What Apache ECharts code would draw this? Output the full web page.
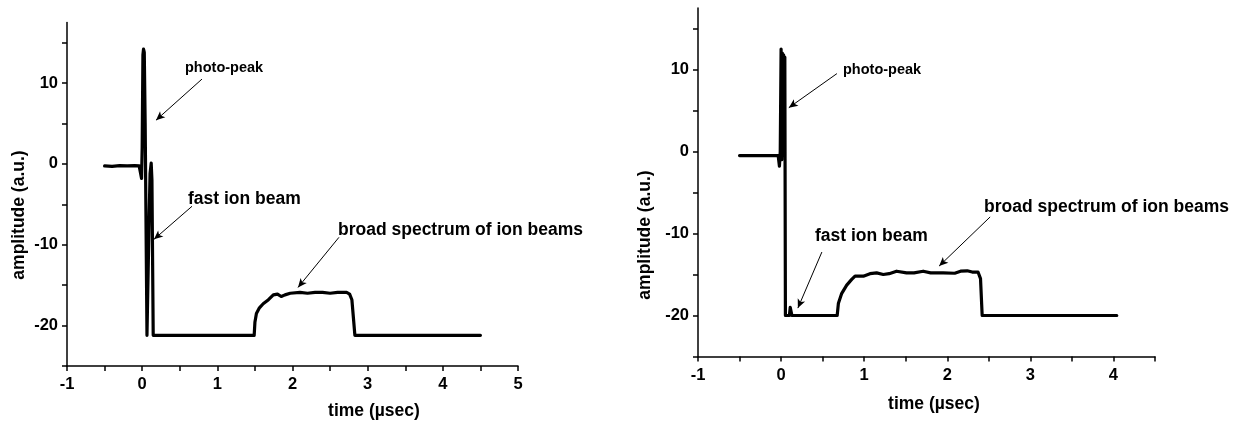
<!DOCTYPE html>
<html>
<head>
<meta charset="utf-8">
<script src="https://cdn.jsdelivr.net/npm/echarts@6/dist/echarts.min.js"></script>
<style>
    html, body { margin: 0; padding: 0; background: #fff; }
    #chart { width: 1252px; height: 423px; }
</style>
</head>
<body>
<div id="chart"></div>
<script>
// 左图 时间(μsec) 幅值
const leftX = [-0.5, -0.4, -0.3, -0.2, -0.1, -0.04, -0.02, -0.008, 0.0, 0.01, 0.018, 0.028, 0.04, 0.064, 0.075,
    0.09, 0.105, 0.12, 0.13, 0.147, 1.49, 1.5, 1.52, 1.56, 1.61, 1.68, 1.745, 1.8, 1.85, 1.9, 1.97, 2.1, 2.2,
    2.3, 2.4, 2.5, 2.6, 2.72, 2.76, 2.79, 2.81, 2.83, 4.5];
const leftY = [-0.25, -0.3, -0.2, -0.25, -0.2, -0.25, -1.2, -1.8, 2, 13.5, 14.2, 13.8, 5, -21.2, -21,
    -8, -1.2, 0.1, -2, -21.2, -21.2, -19.6, -18.5, -17.8, -17.3, -16.8, -16.2, -16.1, -16.4, -16.2, -16.0, -15.9, -16.0,
    -15.9, -15.9, -16.0, -15.9, -15.9, -16.1, -16.8, -19, -21.2, -21.2];
// 右图
const rightX = [-0.5, -0.035, -0.02, -0.01, 0.0, 0.008, 0.015, 0.022, 0.03, 0.036, 0.045, 0.052, 0.06, 0.1, 0.11,
    0.12, 0.13, 0.675, 0.69, 0.73, 0.79, 0.85, 0.89, 0.99, 1.07, 1.15, 1.23, 1.3, 1.39, 1.51, 1.6, 1.71, 1.8,
    1.95, 2.09, 2.16, 2.24, 2.3, 2.37, 2.4, 2.42, 4.04];
const rightY = [-0.5, -0.5, -1.8, 0, 12.5, -1, 12, -0.5, 11.8, 0, 11.5, -20, -20, -20, -19,
    -18.9, -20, -20, -18.5, -17.3, -16.3, -15.6, -15.2, -15.2, -14.9, -14.8, -15.0, -14.9, -14.6, -14.8, -14.8, -14.6, -14.8,
    -14.8, -14.85, -14.6, -14.55, -14.7, -14.7, -15.5, -20, -20];

// 刻度
const leftXTicks = [-1, -0.5, 0, 0.5, 1, 1.5, 2, 2.5, 3, 3.5, 4, 4.5, 5];
const leftXLabels = [-1, 0, 1, 2, 3, 4, 5];
const rightXTicks = [-1, -0.5, 0, 0.5, 1, 1.5, 2, 2.5, 3, 3.5, 4, 4.5];
const rightXLabels = [-1, 0, 1, 2, 3, 4];
const yTicks = [-25, -20, -15, -10, -5, 0, 5, 10, 15];
const yLabels = [-20, -10, 0, 10];

// 标注箭头 [起点, 终点]
const leftArrows = [
    [[0.796, 10.5], [0.184, 5.41]],
    [[0.663, -5.24], [0.157, -9.33]],
    [[2.618, -9.08], [2.073, -15.28]]
];
const rightArrows = [
    [[0.672, 9.5], [0.093, 5.34]],
    [[0.491, -12.26], [0.202, -19.1]],
    [[2.516, -7.98], [1.902, -13.97]]
];

const FONT = "'Liberation Sans', Arial, sans-serif";

function xAxisOf(gridIndex, min, max, ticks, labels) {
    return {
        type: "value",
        gridIndex: gridIndex,
        min: min,
        max: max,
        splitLine: { show: false },
        axisLine: { show: true, onZero: false, lineStyle: { color: "#000", width: 1.5 } },
        axisTick: { show: true, length: 5, customValues: ticks, lineStyle: { color: "#000", width: 1.5 } },
        axisLabel: {
            customValues: labels, margin: 10, color: "#000",
            fontFamily: FONT, fontWeight: "bold", fontSize: 16.5
        }
    };
}
function yAxisOf(gridIndex) {
    return {
        type: "value",
        gridIndex: gridIndex,
        min: -25,
        max: 17.5,
        splitLine: { show: false },
        axisLine: { show: true, onZero: false, lineStyle: { color: "#000", width: 1.5 } },
        axisTick: { show: true, length: 5, customValues: yTicks, lineStyle: { color: "#000", width: 1.5 } },
        axisLabel: {
            customValues: yLabels, margin: 9, color: "#000",
            fontFamily: FONT, fontWeight: "bold", fontSize: 16.5
        }
    };
}
function arrowLines(arrows) {
    return {
        silent: true,
        animation: false,
        symbol: ["none", "arrow"],
        symbolSize: [6, 9],
        label: { show: false },
        lineStyle: { type: "solid", color: "#000", width: 1 },
        data: arrows.map(a => [{ coord: a[0] }, { coord: a[1] }])
    };
}
function zip(xs, ys) {
    return xs.map((x, i) => [x, ys[i]]);
}
function txt(text, x, y, size, rot) {
    return {
        type: "text", x: x, y: y, rotation: rot || 0,
        style: {
            text: text, fill: "#000", align: "center", verticalAlign: "middle",
            font: "bold " + size + "px " + FONT
        }
    };
}
function ann(text, x, y, size) {
    return {
        type: "text", x: x, y: y,
        style: {
            text: text, fill: "#000", align: "left", verticalAlign: "middle",
            font: "bold " + size + "px " + FONT
        }
    };
}

const myChart = echarts.init(document.getElementById("chart"));
myChart.setOption({
    animation: false,
    backgroundColor: "#fff",
    grid: [
        { left: 67, top: 22.5, width: 451, height: 343.5, containLabel: false },
        { left: 698, top: 8, width: 457, height: 348.5, containLabel: false }
    ],
    xAxis: [
        xAxisOf(0, -1, 5, leftXTicks, leftXLabels),
        xAxisOf(1, -1, 4.5, rightXTicks, rightXLabels)
    ],
    yAxis: [yAxisOf(0), yAxisOf(1)],
    series: [
        {
            type: "line", xAxisIndex: 0, yAxisIndex: 0,
            data: zip(leftX, leftY), symbol: "none",
            lineStyle: { color: "#000", width: 3.2, join: "round", cap: "round" },
            markLine: arrowLines(leftArrows)
        },
        {
            type: "line", xAxisIndex: 1, yAxisIndex: 1,
            data: zip(rightX, rightY), symbol: "none",
            lineStyle: { color: "#000", width: 3.2, join: "round", cap: "round" },
            markLine: arrowLines(rightArrows)
        }
    ],
    graphic: [
        txt("amplitude (a.u.)", 19, 215, 17.5, Math.PI / 2),
        txt("time (\u00b5sec)", 374, 411, 17.5),
        ann("photo-peak", 185, 68, 14.5),
        ann("fast ion beam", 188, 199, 17.5),
        ann("broad spectrum of ion beams", 338, 230, 17.5),
        txt("amplitude (a.u.)", 645, 235, 17.5, Math.PI / 2),
        txt("time (\u00b5sec)", 934, 404, 17.5),
        ann("photo-peak", 843, 70, 14.5),
        ann("fast ion beam", 815, 236, 17.5),
        ann("broad spectrum of ion beams", 984, 207, 17.5)
    ]
});
</script>
</body>
</html>
